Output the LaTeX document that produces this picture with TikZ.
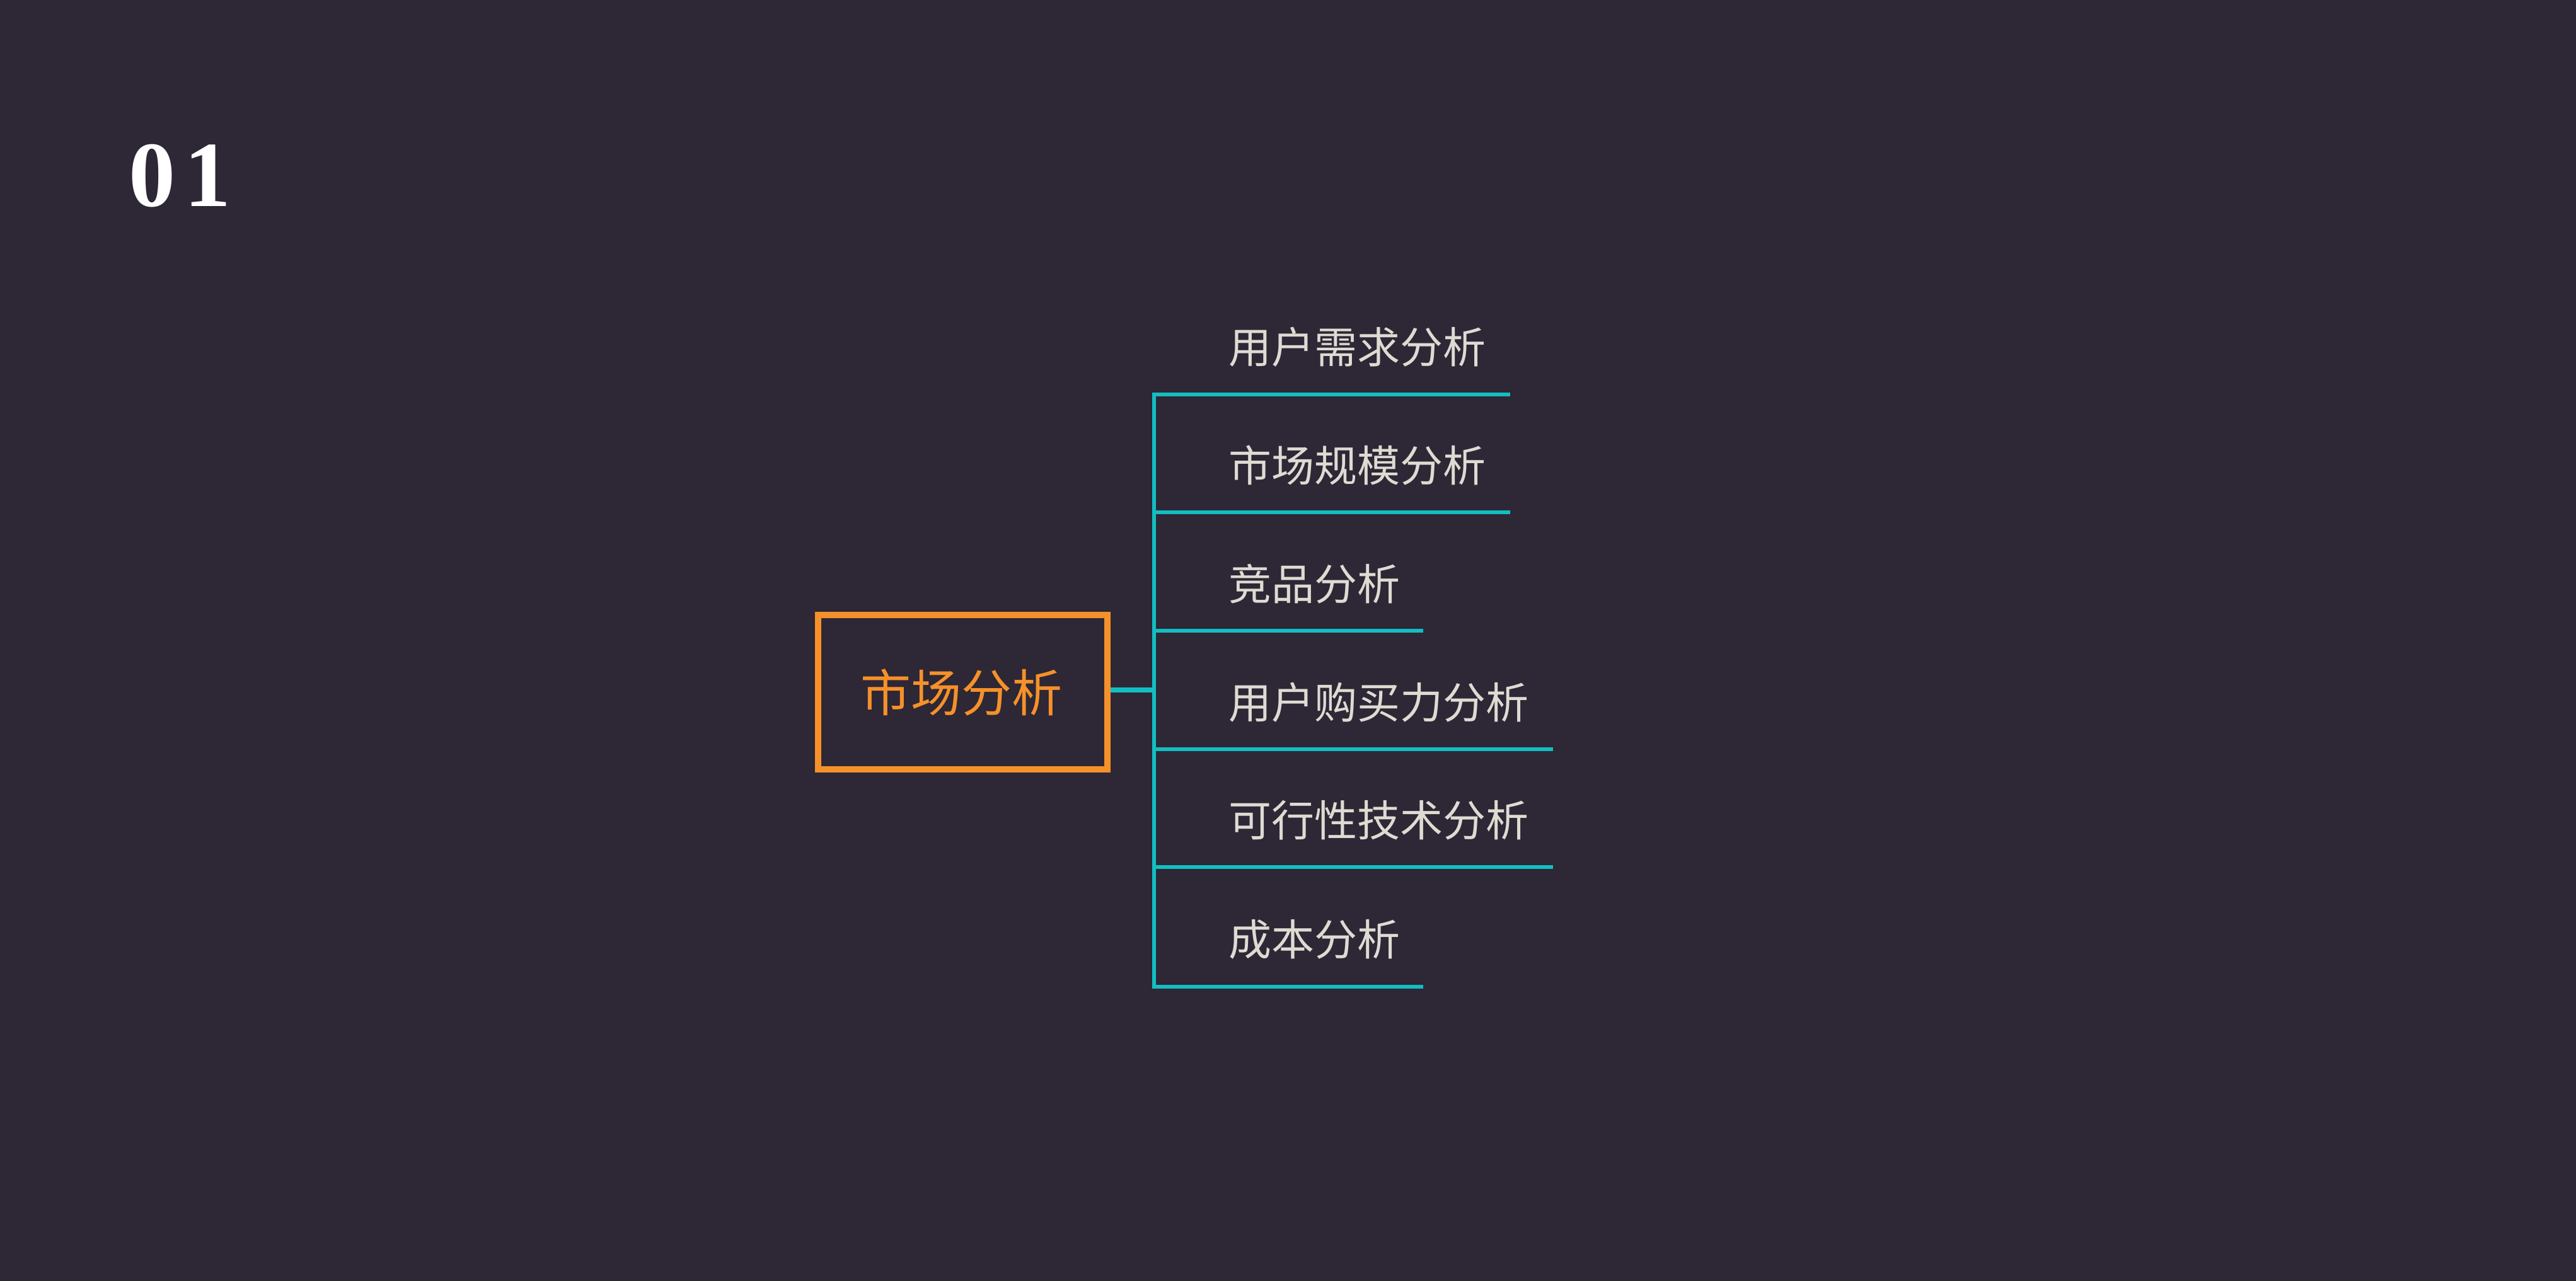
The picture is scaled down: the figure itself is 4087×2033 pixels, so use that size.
\documentclass[tikz,border=0pt]{standalone}
\usepackage{fontspec}
\setmainfont{Liberation Serif}
\newfontfamily\cjk{Noto Sans CJK SC}
\definecolor{bgc}{HTML}{2E2735}
\definecolor{orangec}{HTML}{F5912A}
\definecolor{tealc}{HTML}{12BEC2}
\definecolor{labelc}{HTML}{DEDBD3}
\tikzset{
  px/.style={x=0.2pt,y=-0.2pt},
  rootbox/.style={draw=orangec,line width=2pt,minimum width=91.8pt,minimum height=49pt,inner sep=0pt,text=orangec,font=\cjk\fontsize{16pt}{16pt}\selectfont},
  leaf/.style={anchor=west,inner sep=0pt,text=labelc,font=\cjk\fontsize{13.6pt}{13.6pt}\selectfont},
  branch/.style={draw=tealc,line width=1.3pt},
  stem/.style={draw=tealc,line width=1.6pt},
}
\begin{document}
\begin{tikzpicture}[px]
\fill[bgc] (0,0) rectangle (4087,2033);
\useasboundingbox (0,0) rectangle (4087,2033);
\node[anchor=base west,inner sep=0pt,text=white,font=\bfseries\fontsize{29.6pt}{30pt}\selectfont] (num) at (203,328) {0\kern3pt1};
\node[rootbox] (root) at (1527.5,1098.5) {\kern-1pt市场分析};
\coordinate (t0) at (1831,626);
\coordinate (tm) at (1831,1095);
\coordinate (t5) at (1831,1566);
\coordinate (e0) at (2396,626);
\coordinate (e1) at (2396,813);
\coordinate (e2) at (2258,1001);
\coordinate (e3) at (2464,1189);
\coordinate (e4) at (2464,1376);
\coordinate (e5) at (2258,1566);
\coordinate (s1) at (1831,813);
\coordinate (s2) at (1831,1001);
\coordinate (s3) at (1831,1189);
\coordinate (s4) at (1831,1376);
\draw[stem] (root.east |- tm) -- (tm);
\draw[branch,line join=miter] (e0) -- (t0) -- (t5) -- (e5);
\draw[branch] (s1) -- (e1);
\draw[branch] (s2) -- (e2);
\draw[branch] (s3) -- (e3);
\draw[branch] (s4) -- (e4);
\node[leaf] (l0) at (1948,551) {用户需求分析};
\node[leaf] (l1) at (1948,739) {市场规模分析};
\node[leaf] (l2) at (1948,927) {竞品分析};
\node[leaf] (l3) at (1948,1115) {用户购买力分析};
\node[leaf] (l4) at (1948,1302) {可行性技术分析};
\node[leaf] (l5) at (1948,1491) {成本分析};
\end{tikzpicture}
\end{document}
